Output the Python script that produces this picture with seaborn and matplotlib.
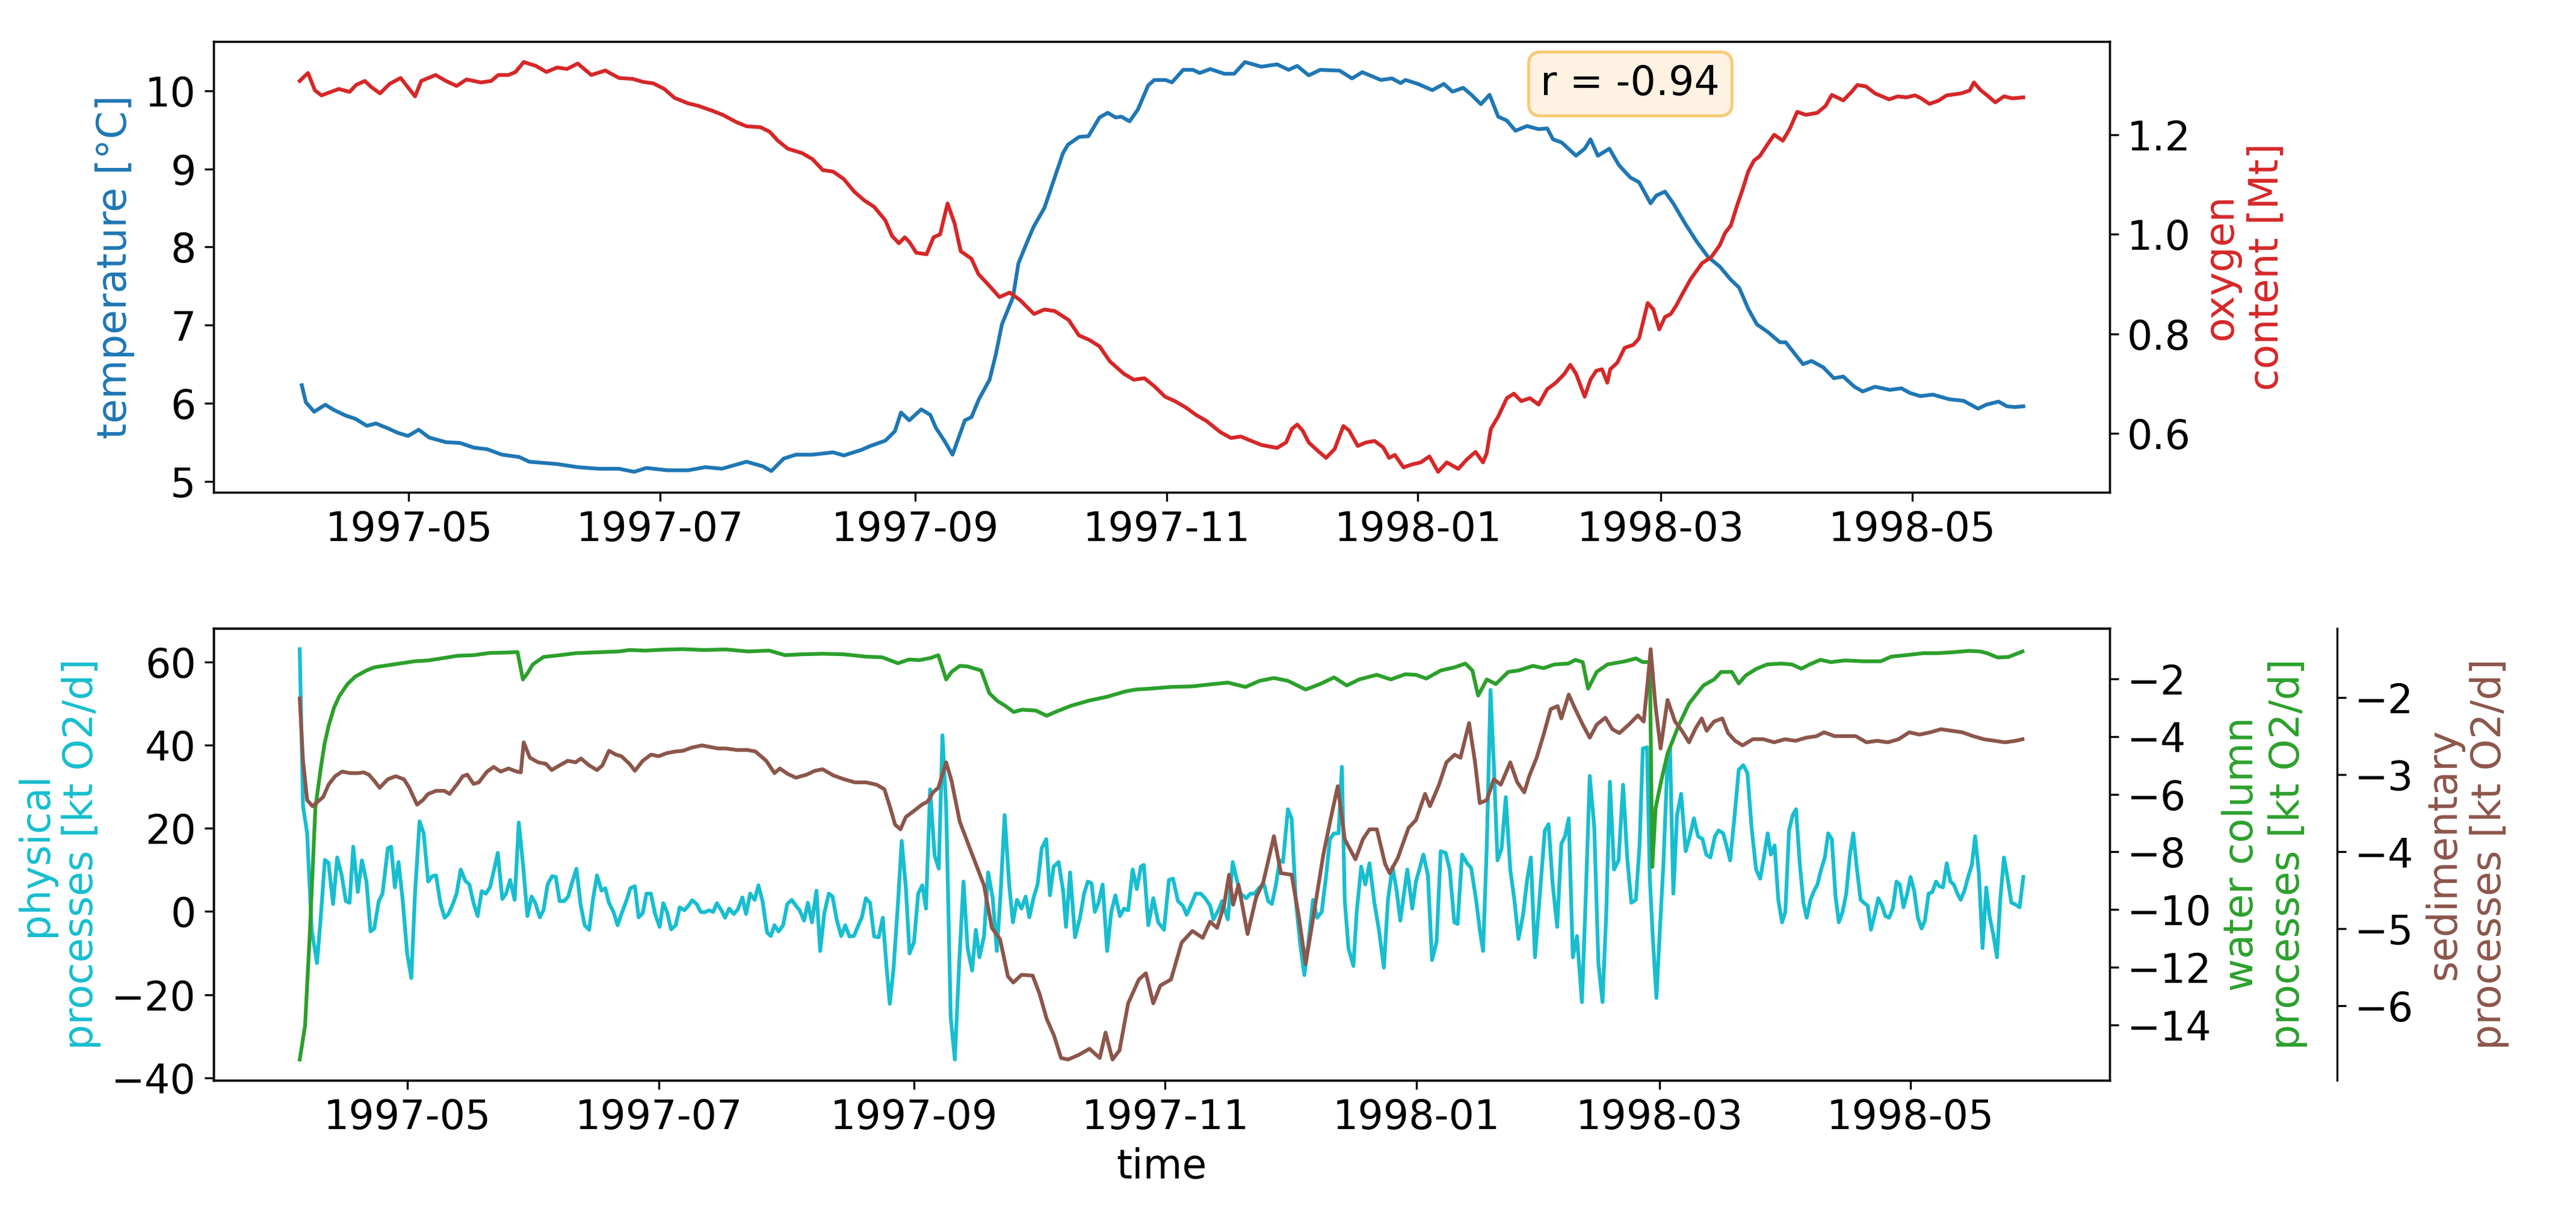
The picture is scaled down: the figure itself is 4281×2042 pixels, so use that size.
import numpy as np
import pandas as pd
import matplotlib
matplotlib.use("Agg")
import matplotlib.pyplot as plt
import matplotlib.dates as mdates
import matplotlib.ticker as mticker
import seaborn as sns

# ---------------- data (days since 1997-04-04) ----------------
START = "1997-04-04"

temp_day = [1, 2, 4, 6.7, 8.9, 11.7, 14, 16.8, 19, 21.8, 24.3, 26.8, 29.4, 31.9, 36, 39.4, 42.8, 46, 49.6, 53.8,
            56.2, 63, 68, 73, 78, 81.7, 84.7, 89.8, 94.8, 99, 103, 109, 113, 115, 118, 121, 125, 130, 132.6, 136.8,
            139, 142.7, 145, 146.5, 148.5, 151.4, 153.6, 155, 157, 159, 162, 163.6, 165.4, 168, 169.5, 171, 173.7,
            175, 177, 178.7, 181.3, 183.8, 185.8, 187, 189.7, 192, 194.7, 196.7, 198.6, 200, 202, 204, 206.5, 208,
            210.7, 212.3, 215, 217.4, 219, 221.6, 225, 227.4, 230, 234, 237.8, 240.6, 242.7, 245.5, 248.3, 253,
            256, 258.5, 263, 265.7, 267.8, 269, 272, 275.5, 278.3, 280.4, 283, 285, 287.3, 289.4, 291.5, 293.6,
            295.7, 298.5, 301.3, 303.4, 304.8, 306.9, 310.4, 312.5, 313.9, 315.7, 318.5, 320.8, 323.6, 325.7,
            328.5, 329.9, 332, 334, 336.9, 339.7, 342.5, 345.3, 348, 350, 352.2, 354.3, 357, 359.9, 361.3, 365.5,
            367.6, 370.4, 373, 375.3, 378, 380, 383, 386.6, 389.4, 391.5, 394, 397, 401, 404.5, 408, 410, 413,
            415, 417, 419]
temp_val = [6.23, 6.01, 5.89, 5.98, 5.91, 5.84, 5.80, 5.71, 5.74, 5.68, 5.62, 5.58, 5.66, 5.56, 5.50, 5.49, 5.43,
            5.41, 5.34, 5.31, 5.25, 5.22, 5.18, 5.16, 5.16, 5.12, 5.17, 5.14, 5.14, 5.18, 5.16, 5.25, 5.19, 5.13,
            5.29, 5.34, 5.34, 5.37, 5.33, 5.40, 5.45, 5.52, 5.64, 5.88, 5.78, 5.92, 5.85, 5.68, 5.52, 5.34, 5.78,
            5.82, 6.05, 6.30, 6.62, 7.01, 7.36, 7.79, 8.05, 8.26, 8.50, 8.89, 9.20, 9.31, 9.41, 9.42, 9.66, 9.72,
            9.66, 9.67, 9.61, 9.76, 10.07, 10.14, 10.14, 10.11, 10.27, 10.27, 10.23, 10.28, 10.22, 10.22, 10.37,
            10.31, 10.34, 10.27, 10.32, 10.20, 10.27, 10.26, 10.16, 10.24, 10.14, 10.16, 10.10, 10.14, 10.09,
            10.01, 10.09, 9.99, 10.04, 9.95, 9.83, 9.95, 9.67, 9.62, 9.49, 9.55, 9.51, 9.52, 9.38, 9.34, 9.17,
            9.26, 9.38, 9.17, 9.26, 9.05, 8.89, 8.83, 8.56, 8.66, 8.71, 8.56, 8.30, 8.07, 7.87, 7.75, 7.58, 7.48,
            7.21, 7.01, 6.91, 6.78, 6.78, 6.50, 6.54, 6.46, 6.32, 6.34, 6.21, 6.15, 6.21, 6.17, 6.19, 6.13, 6.09,
            6.11, 6.05, 6.03, 5.93, 5.98, 6.02, 5.96, 5.95, 5.96]

oxy_day = [0.5, 2.5, 4.2, 5.8, 8.4, 10, 12.6, 14.2, 16.3, 18, 20, 22.3, 25, 26.8, 28.5, 30, 33.5, 36, 38.6, 41, 44.5,
           47, 48.7, 51.2, 52.9, 54.9, 57.9, 60.4, 63, 65.4, 68, 71.3, 74.7, 78, 81.4, 83.9, 86.4, 89, 91.5, 94.8,
           97.3, 100.7, 103.2, 106.6, 109, 112.4, 114.6, 116.6, 119, 122.5, 125, 127.5, 130, 132.6, 135.1, 137.6,
           140, 142.7, 144.3, 146, 147.4, 148.5, 150.2, 152.7, 154.4, 156, 157.8, 159.5, 161, 163.6, 165.3, 167.8,
           170.4, 172.9, 175.4, 178.8, 181.3, 183.8, 187.2, 189.7, 192.2, 194.7, 197.2, 200.6, 203, 205.6, 208,
           210.6, 213, 215.7, 218.2, 220.7, 224, 226.6, 229, 231.6, 234, 237.8, 240, 241.4, 242.7, 244, 245.5,
           247.6, 249.7, 251.8, 253.9, 255.3, 257.4, 259.4, 261.5, 263.6, 265, 266.4, 268.5, 270.6, 272.7, 274.8,
           276.9, 279, 281.8, 283.9, 286, 287.8, 288.7, 289.7, 291.5, 293.6, 295.3, 297.1, 299.2, 301.3, 303.4,
           305.5, 307.6, 309, 310.4, 312.5, 313.9, 315.3, 316.7, 318, 318.7, 320.4, 322.2, 324.3, 325.7, 327.8,
           329.2, 330.6, 332, 333.4, 334.8, 336.2, 338.3, 341, 343.2, 345.3, 346.6, 348, 349.5, 350.8, 352.2,
           353.6, 355, 357, 358.5, 360.6, 362.3, 364.1, 366.2, 369, 371, 372.5, 375.3, 377.3, 378.7, 380.8, 383,
           386.4, 388.5, 390.6, 392.7, 394, 396.2, 398.3, 400.4, 403.9, 406, 407, 408.7, 410.1, 412.2, 414.3,
           416.4, 419]
oxy_val = [1.308, 1.324, 1.289, 1.279, 1.287, 1.292, 1.286, 1.300, 1.308, 1.295, 1.283, 1.302, 1.314, 1.295, 1.277,
           1.308, 1.320, 1.308, 1.298, 1.311, 1.305, 1.308, 1.320, 1.320, 1.326, 1.346, 1.338, 1.326, 1.335, 1.332,
           1.343, 1.320, 1.329, 1.314, 1.312, 1.306, 1.303, 1.292, 1.274, 1.263, 1.258, 1.248, 1.240, 1.225, 1.217,
           1.215, 1.206, 1.188, 1.172, 1.163, 1.151, 1.129, 1.126, 1.111, 1.086, 1.068, 1.055, 1.028, 0.997, 0.982,
           0.994, 0.985, 0.963, 0.960, 0.994, 1.000, 1.062, 1.022, 0.966, 0.951, 0.920, 0.898, 0.874, 0.883, 0.868,
           0.840, 0.849, 0.846, 0.828, 0.797, 0.788, 0.775, 0.745, 0.720, 0.708, 0.711, 0.695, 0.674, 0.665, 0.652,
           0.637, 0.625, 0.603, 0.591, 0.594, 0.585, 0.577, 0.571, 0.582, 0.609, 0.618, 0.606, 0.582, 0.566, 0.551,
           0.569, 0.615, 0.606, 0.575, 0.582, 0.585, 0.572, 0.551, 0.557, 0.532, 0.538, 0.542, 0.554, 0.523, 0.542,
           0.529, 0.548, 0.563, 0.542, 0.560, 0.609, 0.634, 0.671, 0.680, 0.665, 0.671, 0.658, 0.689, 0.702, 0.720,
           0.738, 0.720, 0.674, 0.708, 0.726, 0.729, 0.702, 0.729, 0.742, 0.772, 0.778, 0.791, 0.862, 0.849, 0.809,
           0.834, 0.840, 0.858, 0.880, 0.911, 0.942, 0.954, 0.978, 1.003, 1.018, 1.058, 1.089, 1.126, 1.148, 1.157,
           1.182, 1.200, 1.188, 1.212, 1.246, 1.240, 1.244, 1.258, 1.280, 1.269, 1.286, 1.300, 1.297, 1.283, 1.271,
           1.277, 1.275, 1.279, 1.274, 1.262, 1.268, 1.279, 1.283, 1.289, 1.305, 1.289, 1.280, 1.265, 1.277, 1.273,
           1.275]

phys_day = [0.8, 1.6, 2.6, 3.7, 5, 5.9, 6.9, 7.8, 8.9, 9.9, 11, 12, 12.9, 13.8, 14.9, 15.9, 17, 18, 18.9, 20, 20.9,
            22.2, 23, 23.9, 24.8, 25.8, 26.9, 27.9, 28.8, 29.9, 30.9, 32, 33, 33.9, 35, 36, 36.9, 38, 38.9, 39.9, 41,
            42, 43, 44, 45, 46, 47, 48, 48.9, 50, 50.9, 51.9, 53, 54, 55, 56.1, 57.1, 58, 59.1, 60, 61, 62.1, 63,
            63.9, 65, 66, 66.9, 68, 69, 70, 71.1, 72, 73, 74.1, 75, 75.9, 77, 78, 79, 80.1, 81.1, 82.2, 83.1, 84.1,
            85, 86.1, 87.1, 88.2, 89.1, 90, 91, 92.1, 93.1, 94.2, 95.2, 96.1, 97.2, 98.2, 99.1, 100.2, 101.2, 102.1,
            103.2, 104.1, 105.1, 106.2, 107.2, 108.3, 109.2, 110.2, 111.3, 112.2, 113.2, 114.3, 115.2, 116.1, 117.1,
            118.2, 119.2, 120.3, 121.3, 122.2, 123.3, 124.2, 125.2, 126.3, 127.2, 128.2, 129.3, 130.2, 131.2, 132.3,
            133.3, 134.3, 135.4, 136.3, 137.3, 138.3, 139.3, 140.3, 141.4, 142.4, 143.3, 144.1, 145, 146.1, 147, 148,
            148.9, 150, 151, 152, 152.9, 153.9, 155, 156, 156.9, 157.8, 158.9, 159.9, 161, 162, 163, 164.1, 165,
            165.9, 167, 168, 169.1, 170.1, 171, 172, 173.1, 174, 175, 176.1, 177.1, 178, 179.1, 180, 181, 182.1,
            183, 183.9, 185.1, 186.2, 186.9, 187.9, 189.1, 190.3, 191.3, 192.2, 193.1, 193.9, 194.8, 195.8, 196.9,
            197.9, 198.9, 200, 201, 202, 203.1, 204.1, 205.1, 205.8, 206.9, 208.1, 209.3, 210.7, 211.9, 212.9, 214.1,
            215.3, 216.2, 217.2, 218.4, 219.6, 220.7, 221.9, 222.7, 223.9, 224.8, 226.2, 227.4, 228.4, 229.3, 230.7,
            231.7, 232.7, 233.9, 235, 236, 236.9, 237.9, 238.8, 239.6, 240.8, 241.7, 242.7, 243.8, 244.8, 245.7,
            246.9, 247.9, 249, 250, 251, 252, 253.1, 253.9, 254.6, 255.5, 256.7, 257.5, 258.6, 259.6, 260.6, 261.8,
            262.9, 264.1, 265.1, 266.2, 267.2, 268.1, 269, 269.8, 271, 271.9, 272.7, 273.7, 274.8, 275.8, 276.9,
            277.9, 279.1, 280.1, 281.2, 282, 283.1, 284.3, 285.3, 286.5, 287.4, 288.2, 289.1, 290, 290.8, 291.7,
            292.7, 293.7, 294.8, 295.8, 296.8, 297.9, 298.9, 299.8, 300.8, 302, 303.2, 304.1, 305.1, 306.2, 307.2,
            308.1, 309, 310, 311, 312.2, 313.1, 314.1, 315.2, 316.2, 317.2, 318.1, 319, 320, 321.1, 322.2, 323.2,
            324.2, 325.3, 326.2, 327, 328, 328.7, 329.4, 330.3, 331.1, 332, 332.9, 333.6, 334.4, 335.3, 336.3, 337.4,
            338.4, 339.4, 340.4, 341.5, 342.4, 343.4, 344.5, 345.4, 346.5, 347.3, 348.2, 349.3, 350.3, 351.4, 352.4,
            353.4, 354.5, 355.5, 356.4, 357.3, 358.1, 359, 359.9, 360.8, 361.6, 362.5, 363.4, 364.2, 365.1, 366,
            366.8, 367.7, 368.6, 369.4, 370.3, 371.2, 372, 372.9, 373.8, 374.6, 375.5, 376.4, 377.3, 378.1, 379,
            379.9, 380.7, 381.6, 382.4, 383.3, 384.2, 385.1, 385.9, 386.8, 387.7, 388.6, 389.4, 390.3, 391.2, 392,
            392.9, 393.8, 394.7, 395.5, 396.4, 397.3, 398.2, 399, 399.9, 400.8, 401.7, 402.5, 403.4, 404.2, 405.1,
            406, 406.9, 407.7, 408.6, 409.5, 410.4, 411.2, 412.1, 413, 413.8, 414.7, 415.6, 416.5, 417.3, 418.5,
            419.4]
phys_val = [63.1, 25.4, 18.8, -4.4, -12.4, -1.5, 12.4, 11.7, 1.8, 13.0, 8.7, 2.5, 2.1, 15.6, 4.7, 12.3, 7.2, -4.8,
            -4.1, 2.5, 4.3, 15.2, 15.6, 5.8, 11.9, 2.8, -10.2, -16.0, 4.3, 21.7, 18.8, 7.2, 8.5, 8.7, 1.8, -1.5, -0.6,
            1.8, 4.3, 10.1, 7.4, 6.5, 2.1, -1.1, 4.9, 4.3, 5.8, 10.1, 14.1, 3.0, 4.3, 7.6, 2.8, 21.4, 11.6, -1.1, 3.6,
            2.1, -1.4, 0.3, 6.5, 8.5, 8.3, 2.5, 2.5, 3.6, 6.8, 10.3, 1.8, -3.3, -4.4, 2.8, 8.7, 5.0, 5.6, 2.1, -0.1,
            -3.3, -0.4, 2.5, 5.6, 6.1, -1.4, -0.4, 4.3, 4.3, -0.6, -3.7, 2.0, -0.1, -4.3, -3.3, 1.0, 0.3, 1.4, 2.7,
            1.8, -0.1, -0.2, 0.3, -0.1, 2.0, 0.3, -1.5, 0.7, -0.6, 0.5, 3.4, -0.6, 4.3, 2.8, 6.3, 2.5, -5.0, -5.9,
            -3.3, -4.8, -3.3, 1.8, 2.8, 1.4, 0.3, -2.2, 2.1, -2.6, 5.0, -9.5, -0.4, 4.3, 3.6, -1.9, -5.9, -3.3, -6.0,
            -5.9, -3.7, -1.5, 3.2, 2.1, -6.0, -6.2, -1.5, -13.1, -22.2, -13.9, 2.1, 17.0, 5.8, -10.1, -7.3, 4.3, 6.3,
            0.7, 29.4, 13.4, 10.3, 42.4, 25.0, -25.5, -35.6, -11.7, 7.2, -8.8, -14.2, -4.4, -11.0, -5.9, 9.4, 3.2,
            -9.5, 3.9, 23.2, 6.5, -2.6, 2.8, 0.7, 3.6, -1.4, 3.6, 6.5, 15.2, 17.4, 3.9, 10.8, 11.9, 5.0, -3.7, 9.4,
            -6.2, -1.5, 4.3, 7.2, 6.8, -0.1, 2.1, 6.5, -9.5, -0.1, 3.9, -1.1, 0.7, 0.3, 10.1, 5.4, 10.8, 11.2, -3.3,
            3.2, -2.6, -4.4, 7.6, 7.9, 2.5, 1.4, -0.8, 1.4, 4.3, 4.3, 3.2, 1.4, -1.9, 0.3, 2.5, -1.9, 11.9, 7.6, 4.3,
            3.2, 4.3, 4.3, 5.8, 6.5, 2.5, 1.8, 6.5, 12.3, 11.9, 24.6, 22.4, 2.8, -8.0, -15.3, -8.0, 2.8, -1.5, -0.1,
            7.9, 17.4, 18.8, 18.8, 34.8, 2.8, -8.8, -13.1, -0.1, 10.8, 6.5, 11.6, 2.1, -4.4, -13.5, 2.8, 10.8, 5.0,
            -2.2, 4.3, 10.1, 0.7, 7.2, 10.1, 13.7, 8.7, -11.7, -7.3, 14.5, 14.1, 10.1, -2.6, -3.0, 13.7, 11.6, 10.5,
            2.8, -4.4, -9.5, 15.9, 53.3, 35.5, 12.3, 15.2, 27.5, 10.1, 2.8, -6.6, -0.8, 7.6, 13.0, -11.0, 4.3, 19.5,
            21.0, 6.5, -3.7, 16.3, 18.1, 22.4, -11.0, -5.9, -21.8, 2.5, 32.6, 20.3, -12.4, -21.8, -0.8, 31.2, 10.1,
            12.3, 30.5, 13.0, 2.1, 2.8, 15.9, 39.2, 39.5, 7.9, -5.9, -20.8, -5.1, 11.6, 34.1, 39.2, 4.3, 23.2, 28.3,
            14.5, 18.1, 22.4, 18.1, 17.4, 13.7, 13.0, 18.1, 19.5, 18.8, 15.9, 12.3, 23.2, 34.1, 35.2, 33.3, 20.3,
            10.1, 7.9, 13.0, 18.8, 13.7, 15.9, 2.8, -2.6, -0.1, 19.5, 23.2, 24.6, 11.6, 2.1, -1.5, 2.8, 5.0, 6.5,
            10.1, 13.0, 18.8, 17.4, 3.6, -2.6, -0.1, 4.3, 13.7, 18.8, 10.1, 2.8, 2.1, 1.4, -4.4, -0.8, 3.2, 1.4,
            -1.1, -1.5, 0.7, 7.2, 6.5, 1.0, 4.3, 8.3, 5.0, -1.5, -4.1, -2.2, 4.3, 4.7, 7.2, 6.1, 5.8, 11.6, 7.2, 6.5,
            4.3, 2.8, 5.0, 8.3, 11.2, 18.1, 9.4, -8.8, 5.8, -1.1, -5.5, -11.0, 2.8, 13.0, 7.9, 2.1, 1.8, 1.0, 8.3]

wc_day = [0.8, 2.1, 3.3, 4.6, 5.9, 6.8, 7.8, 9.1, 10.4, 12.4, 14.3, 17, 18.9, 22.2, 25.4, 28.7, 32, 35.2, 39.1, 43,
          47, 50.9, 53.7, 55, 56.1, 57.4, 60, 63.9, 67.8, 73, 78.3, 80.9, 84.8, 88.7, 93.9, 99.1, 104.3, 109.6,
          114.8, 118.7, 122.6, 127.8, 133, 138.3, 142.2, 144.1, 146.1, 148.7, 151.3, 153.9, 155.9, 157.8, 159.1,
          161.1, 163, 166.3, 168.3, 170.2, 172.2, 174.2, 176.2, 179.6, 182.2, 184.8, 188.2, 192.6, 196.9, 201.2,
          203.8, 207.2, 212.4, 217.6, 222.7, 226.2, 230.5, 233.9, 237.4, 240.8, 245.1, 248.6, 252, 255.1, 258.1,
          262.4, 265.8, 269.3, 271.9, 274.4, 277.9, 281.3, 283.9, 285.6, 287, 289.1, 291.3, 294.3, 296.8, 300.3,
          302.9, 305.5, 308.9, 310.6, 312.4, 313.7, 315.8, 318.4, 322.7, 325.3, 327, 328.7, 329.3, 330.1, 331.3,
          333, 335.6, 338.2, 341.7, 344.3, 346, 348.6, 350.3, 352, 354.6, 357.2, 360.6, 363.2, 365.5, 367.5, 370.1,
          372.7, 376.1, 380.5, 384.8, 387.3, 390.8, 395.1, 398.6, 402, 406.3, 408.9, 410.6, 413.2, 415.8, 419.2]
wc_val = [-15.20, -14.03, -10.67, -6.48, -5.11, -4.27, -3.64, -3.01, -2.60, -2.18, -1.92, -1.71, -1.60, -1.53,
          -1.46, -1.39, -1.36, -1.29, -1.20, -1.18, -1.10, -1.09, -1.07, -2.02, -1.81, -1.50, -1.24, -1.18, -1.11,
          -1.08, -1.05, -1.00, -1.02, -0.99, -0.97, -1.00, -0.98, -1.05, -1.02, -1.18, -1.15, -1.13, -1.15, -1.23,
          -1.25, -1.35, -1.46, -1.33, -1.35, -1.28, -1.18, -2.02, -1.76, -1.55, -1.57, -1.71, -2.50, -2.76, -2.94,
          -3.15, -3.07, -3.10, -3.28, -3.12, -2.93, -2.75, -2.62, -2.44, -2.37, -2.34, -2.28, -2.26, -2.18, -2.13,
          -2.28, -2.07, -1.97, -2.07, -2.37, -2.18, -1.95, -2.23, -2.02, -1.86, -2.02, -1.84, -1.86, -1.99, -1.71,
          -1.60, -1.47, -1.71, -2.58, -2.02, -2.18, -1.76, -1.71, -1.55, -1.63, -1.50, -1.47, -1.34, -1.42, -2.34,
          -1.76, -1.50, -1.39, -1.29, -1.42, -1.42, -8.52, -6.48, -5.64, -4.59, -3.65, -2.86, -2.23, -2.02, -1.76,
          -1.76, -2.16, -1.88, -1.65, -1.50, -1.47, -1.50, -1.65, -1.50, -1.34, -1.42, -1.36, -1.39, -1.39, -1.23,
          -1.18, -1.11, -1.11, -1.08, -1.03, -1.05, -1.11, -1.26, -1.24, -1.05]

sed_day = [0.8, 1.6, 2.6, 3.9, 5.2, 6.5, 7.8, 9.4, 11.1, 13, 15, 16.3, 17.6, 18.9, 20.2, 22.2, 24.1, 26.1, 27.4,
           29.3, 30.7, 32, 33.9, 35.9, 37.2, 39.1, 40.4, 41.5, 43, 44.3, 46.3, 47.9, 49.6, 51.5, 53.5, 54.5, 55.2,
           56.7, 58.7, 60.6, 62, 63.9, 65.9, 67.8, 69.1, 71.1, 73, 74.3, 75.9, 77.6, 78.9, 80.9, 82.2, 84.1, 86.1,
           88, 90, 92, 93.9, 95.9, 98.5, 100.4, 102.4, 104.3, 107, 109.6, 111.5, 112.8, 114.1, 116.1, 117.4, 119.3,
           121.3, 123.9, 125.9, 127.8, 130.4, 133, 135.6, 138.3, 140.9, 142.8, 144.1, 145.4, 146.7, 148, 150,
           151.9, 153.3, 154.6, 155.9, 157.8, 159.1, 161.1, 163, 165, 167, 168.9, 170.9, 172.8, 174.1, 176.1, 178.8,
           180.5, 182.2, 184, 185.7, 187.4, 190, 192.6, 195.1, 196.5, 198.2, 199.9, 202, 204.6, 206.3, 208.1,
           209.8, 212.4, 215, 217.6, 220.1, 221.9, 223.6, 225.3, 226.5, 227.5, 228.8, 231, 233.1, 234.8, 237.4,
           239.1, 241.7, 243.4, 245.1, 246.9, 249.4, 251.2, 252.9, 254.6, 257.2, 259, 260.6, 262.4, 264.4, 265.5,
           267.5, 270.1, 271.9, 274.1, 275.3, 277.5, 279.3, 281.3, 282.7, 284.8, 286.2, 287.4, 289.1, 290.8, 292.5,
           294.8, 296.5, 298.2, 299.4, 301.2, 302.9, 304.6, 306.3, 307.2, 309, 310.6, 312.4, 314.1, 315.8, 317.9,
           319.6, 321.3, 323.6, 325.8, 327.2, 328.2, 328.9, 330, 331.3, 333, 334.8, 336.5, 338.2, 339.9, 341.3,
           342.5, 344.3, 346.3, 347.7, 349.4, 351.2, 353.7, 356.3, 358.9, 361.5, 364.1, 366.7, 369.2, 371, 373.6,
           376.1, 378.7, 381.3, 383.9, 386.5, 389.1, 391.7, 394.2, 396.8, 399.4, 402, 404.6, 407.2, 409.8, 412.4,
           415, 417.6, 419.2]
sed_val = [-2.01, -2.82, -3.33, -3.41, -3.35, -3.29, -3.13, -3.02, -2.96, -2.98, -2.98, -2.97, -3.00, -3.08, -3.17,
           -3.06, -3.02, -3.06, -3.17, -3.39, -3.33, -3.25, -3.21, -3.21, -3.25, -3.12, -3.02, -3.00, -3.12, -3.10,
           -2.96, -2.90, -2.96, -2.92, -2.96, -2.97, -2.58, -2.78, -2.84, -2.86, -2.94, -2.88, -2.82, -2.84, -2.79,
           -2.88, -2.94, -2.88, -2.69, -2.74, -2.76, -2.86, -2.95, -2.82, -2.74, -2.76, -2.72, -2.70, -2.69, -2.65,
           -2.62, -2.64, -2.66, -2.66, -2.68, -2.68, -2.70, -2.76, -2.82, -2.98, -2.92, -2.99, -3.04, -3.00, -2.95,
           -2.93, -3.01, -3.06, -3.10, -3.10, -3.13, -3.19, -3.41, -3.65, -3.71, -3.55, -3.47, -3.39, -3.35, -3.23,
           -3.17, -2.84, -3.08, -3.61, -3.88, -4.16, -4.44, -4.99, -5.14, -5.62, -5.70, -5.60, -5.61, -5.85, -6.17,
           -6.39, -6.68, -6.70, -6.64, -6.56, -6.68, -6.35, -6.70, -6.58, -5.97, -5.66, -5.58, -5.97, -5.74, -5.66,
           -5.18, -5.03, -5.12, -4.91, -4.99, -4.69, -4.30, -4.69, -4.43, -5.07, -4.59, -4.40, -3.80, -4.28, -4.30,
           -4.83, -5.46, -4.87, -4.04, -3.57, -3.15, -3.84, -4.10, -3.84, -3.71, -3.71, -4.16, -4.28, -4.08, -3.69,
           -3.59, -3.25, -3.41, -3.13, -2.84, -2.74, -2.78, -2.33, -2.82, -3.37, -3.33, -3.06, -3.13, -2.84, -3.10,
           -3.23, -3.02, -2.78, -2.48, -2.15, -2.11, -2.27, -1.96, -2.15, -2.35, -2.52, -2.35, -2.26, -2.41, -2.46,
           -2.35, -2.23, -2.31, -1.78, -1.37, -2.07, -2.66, -2.03, -2.31, -2.43, -2.58, -2.39, -2.27, -2.43, -2.31,
           -2.27, -2.46, -2.56, -2.62, -2.54, -2.54, -2.58, -2.54, -2.56, -2.52, -2.50, -2.45, -2.50, -2.50, -2.50,
           -2.58, -2.56, -2.58, -2.54, -2.45, -2.48, -2.45, -2.41, -2.43, -2.45, -2.50, -2.54, -2.56, -2.58, -2.56,
           -2.54]


def to_dates(days):
    return pd.Timestamp(START) + pd.to_timedelta(np.asarray(days, dtype=float), unit="D")


def draw(ax, days, vals, color):
    sns.lineplot(x=to_dates(days), y=np.asarray(vals, dtype=float), ax=ax, color=color,
                 estimator=None, sort=False, linewidth=1.5)


# ---------------- figure ----------------
plt.rcParams["font.family"] = ["DejaVu Sans"]
plt.rcParams["font.size"] = 16

fig = plt.figure(figsize=(4281 / 300, 2042 / 300), dpi=300)
ax_t = fig.add_axes([0.0829, 0.5994, 0.7360, 0.3668])
ax_b = fig.add_axes([0.0829, 0.1212, 0.7360, 0.3673])

# top panel
draw(ax_t, temp_day, temp_val, "tab:blue")
ax_t.set_ylabel("temperature [°C]", color="tab:blue")
ax_t.set_xlabel("")
ax_t.yaxis.set_major_locator(mticker.MultipleLocator(1))
ax_o = ax_t.twinx()
draw(ax_o, oxy_day, oxy_val, "tab:red")
ax_o.set_ylabel("oxygen\ncontent [Mt]", color="tab:red")
ax_o.yaxis.set_major_locator(mticker.MultipleLocator(0.2))
ax_t.text(0.7, 0.95, "r = -0.94", transform=ax_t.transAxes, va="top", fontsize=16,
          bbox=dict(boxstyle="round", facecolor="#FEF2E2", edgecolor="#F9CA77", linewidth=1.2))

# bottom panel
draw(ax_b, phys_day, phys_val, "tab:cyan")
ax_b.set_ylabel("physical\nprocesses [kt O2/d]", color="tab:cyan")
ax_b.set_xlabel("time")
ax_b.yaxis.set_major_locator(mticker.MultipleLocator(20))
ax_w = ax_b.twinx()
draw(ax_w, wc_day, wc_val, "tab:green")
ax_w.set_ylabel("water column\nprocesses [kt O2/d]", color="tab:green")
ax_w.yaxis.set_major_locator(mticker.MultipleLocator(2))
ax_s = ax_b.twinx()
ax_s.spines["right"].set_position(("axes", 1.12))
draw(ax_s, sed_day, sed_val, "tab:brown")
ax_s.set_ylabel("sedimentary\nprocesses [kt O2/d]", color="tab:brown")
ax_s.yaxis.set_major_locator(mticker.MultipleLocator(1))

for a in (ax_t, ax_b):
    a.xaxis.set_major_locator(mdates.MonthLocator(bymonth=[1, 3, 5, 7, 9, 11]))
    a.xaxis.set_major_formatter(mdates.DateFormatter("%Y-%m"))

fig.savefig("out.png", dpi=300)
